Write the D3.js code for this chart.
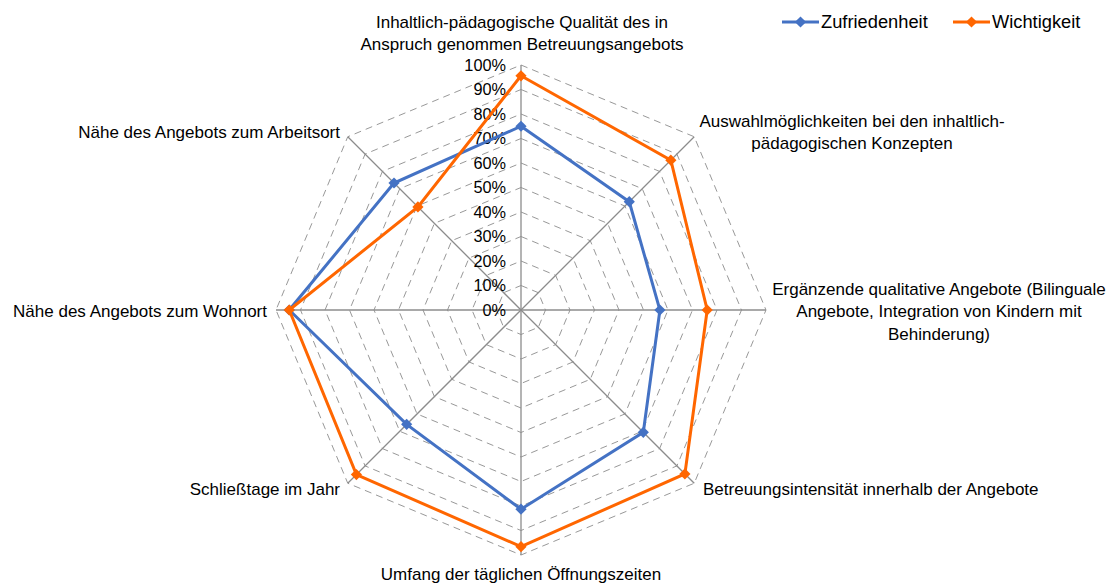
<!DOCTYPE html>
<html><head><meta charset="utf-8">
<script src="https://cdn.jsdelivr.net/npm/d3@7"></script>
<style>body{margin:0;background:#fff;} text{font-family:"Liberation Sans",Arial,sans-serif;fill:#000;}</style>
</head><body>
<svg id="c" width="1110" height="585"></svg>
<script>
const categories = [
  ["Inhaltlich-pädagogische Qualität des in","Anspruch genommen Betreuungsangebots"],
  ["Auswahlmöglichkeiten bei den inhaltlich-","pädagogischen Konzepten"],
  ["Ergänzende qualitative Angebote (Bilinguale","Angebote, Integration von Kindern mit","Behinderung)"],
  ["Betreuungsintensität innerhalb der Angebote"],
  ["Umfang der täglichen Öffnungszeiten"],
  ["Schließtage im Jahr"],
  ["Nähe des Angebots zum Wohnort"],
  ["Nähe des Angebots zum Arbeitsort"]
];
const seriesNames = ["Zufriedenheit","Wichtigkeit"];
const zufriedenheit = [0.75, 0.625, 0.567, 0.706, 0.813, 0.66, 0.946, 0.733];
const wichtigkeit   = [0.956, 0.865, 0.76, 0.946, 0.966, 0.95, 0.946, 0.595];
const ticks = [0,0.1,0.2,0.3,0.4,0.5,0.6,0.7,0.8,0.9,1.0];
const colors = ["#4472C4","#FF6600"];

const svg = d3.select("#c");
const cx = 521, cy = 310, R = 245;
const r = d3.scaleLinear().domain([0,1]).range([0,R]);
const n = categories.length;
const ang = d3.scalePoint().domain(d3.range(n+1)).range([0, 2*Math.PI]);
const pt = (i, v) => [cx + r(v)*Math.sin(ang(i)), cy - r(v)*Math.cos(ang(i))];

// grid rings
ticks.slice(1).forEach(t => {
  const pts = d3.range(n).map(i => pt(i,t));
  svg.append("polygon").attr("points", pts.map(p=>p.join(",")).join(" "))
    .attr("fill","none").attr("stroke","#8c8c8c").attr("stroke-width",0.9).attr("stroke-dasharray","7,5");
});
// axes
d3.range(n).forEach(i => {
  const p = pt(i,1);
  svg.append("line").attr("x1",cx).attr("y1",cy).attr("x2",p[0]).attr("y2",p[1])
    .attr("stroke","#8c8c8c").attr("stroke-width",1.3);
});
// tick labels
svg.selectAll("text.tick").data(ticks).join("text").attr("class","tick")
  .attr("x", cx-15).attr("y", d => cy - r(d)).attr("dy","0.35em")
  .attr("text-anchor","end").attr("font-size",16.3).text(d => Math.round(d*100)+"%");

// series
const line = d3.line();
[zufriedenheit, wichtigkeit].forEach((vals, s) => {
  const pts = vals.map((v,i)=>pt(i,v));
  svg.append("path").attr("d", line(pts.concat([pts[0]])))
    .attr("fill","none").attr("stroke",colors[s]).attr("stroke-width",3).attr("stroke-linejoin","miter");
  svg.selectAll(null).data(pts).join("path")
    .attr("d", d3.symbol(d3.symbolDiamond2, 80)())
    .attr("transform", p => `translate(${p[0]},${p[1]})`).attr("fill",colors[s]);
});

// category labels
const labelPos = [
  {dx:1, dy:-288, anchor:"middle"},
  {dx:331, dy:-189, anchor:"middle"},
  {dx:418, dy:-21, anchor:"middle"},
  {dx:182, dy:179, anchor:"start"},
  {dx:0, dy:264, anchor:"middle"},
  {dx:-181, dy:179, anchor:"end"},
  {dx:-254, dy:1, anchor:"end"},
  {dx:-181, dy:-178, anchor:"end"}
];
categories.forEach((lines,i) => {
  const lp = labelPos[i];
  const t = svg.append("text").attr("x", cx+lp.dx).attr("y", cy+lp.dy)
    .attr("text-anchor", lp.anchor).attr("font-size",17);
  lines.forEach((l,k) => t.append("tspan").attr("x", cx+lp.dx).attr("dy", k===0 ? "0.35em" : 22.5).text(l));
});

// legend
const lx = [782, 953];
seriesNames.forEach((name, s) => {
  const g = svg.append("g").attr("transform", `translate(${lx[s]},22)`);
  g.append("line").attr("x1",0).attr("x2",37).attr("stroke",colors[s]).attr("stroke-width",3);
  g.append("path").attr("d", d3.symbol(d3.symbolDiamond2, 80)()).attr("transform","translate(18.5,0)").attr("fill",colors[s]);
  g.append("text").attr("x",39).attr("dy","0.35em").attr("font-size",18.3).text(name);
});
</script>
</body></html>
